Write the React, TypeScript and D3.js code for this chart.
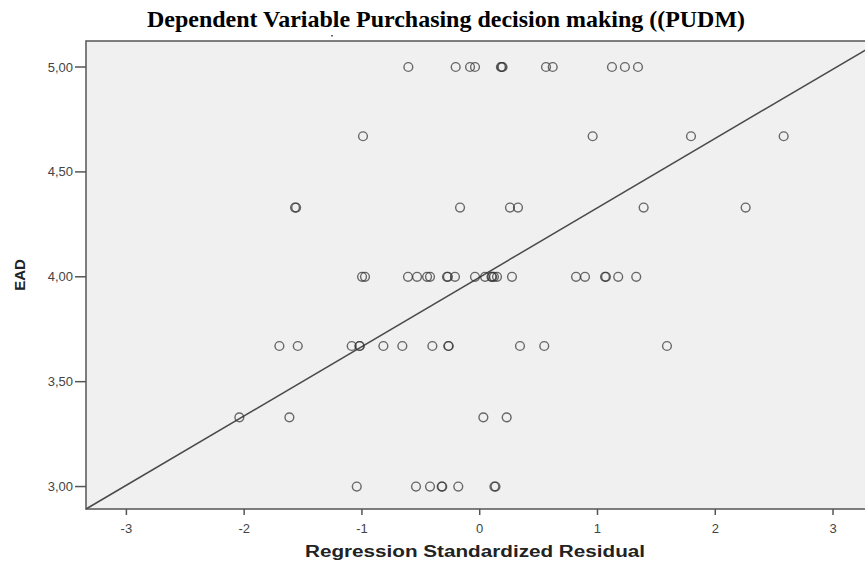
import React, { useEffect, useRef } from 'react';
import * as d3 from 'd3';

// residuals per EAD level
const rowLevels = [5.0, 4.67, 4.33, 4.0, 3.67, 3.33, 3.0];
const resid500 = [-0.606, -0.204, -0.082, -0.04, 0.18, 0.187, 0.194, 0.563, 0.62, 1.123, 1.233, 1.344];
const resid467 = [-0.991, 0.959, 1.794, 2.581];
const resid433 = [-1.568, -1.559, -0.167, 0.257, 0.325, 1.392, 2.258];
const resid400 = [-0.999, -0.974, -0.609, -0.532, -0.447, -0.422, -0.278, -0.27, -0.21, -0.04, 0.045, 0.1, 0.106,
  0.121, 0.147, 0.274, 0.818, 0.894, 1.064, 1.072, 1.176, 1.329];
const resid367 = [-1.701, -1.545, -1.087, -1.022, -1.018, -0.818, -0.657, -0.402, -0.267, -0.263, 0.342, 0.548, 1.59];
const resid333 = [-2.041, -1.616, 0.031, 0.229];
const resid300 = [-1.044, -0.541, -0.422, -0.323, -0.318, -0.182, 0.125, 0.134];

const xTicks = [-3, -2, -1, 0, 1, 2, 3];
const yTicks = [3.0, 3.5, 4.0, 4.5, 5.0];
const yTickLabels = ['3,00', '3,50', '4,00', '4,50', '5,00'];
const xDomain = [-3.343, 3.28];
const yDomain = [2.893, 5.124];
const fitLine = [[-3.343, 2.893], [3.275, 5.081]];

const title = 'Dependent Variable Purchasing decision making ((PUDM)';

const App = () => {
  const svgRef = useRef(null);

  useEffect(() => {
    const svg = d3.select(svgRef.current);
    svg.selectAll('*').remove();

    const left = 86, top = 41, right = 866, bottom = 509;
    const x = d3.scaleLinear().domain(xDomain).range([left, right]);
    const y = d3.scaleLinear().domain(yDomain).range([bottom, top]);

    const rows = [resid500, resid467, resid433, resid400, resid367, resid333, resid300];
    const points = rows.flatMap((r, i) => r.map((v) => ({ x: v, y: rowLevels[i] })));

    svg.append('text')
      .attr('x', 446).attr('y', 27)
      .attr('text-anchor', 'middle')
      .attr('font-family', 'Liberation Serif')
      .attr('font-weight', 'bold')
      .attr('font-size', 22.5)
      .attr('textLength', 598)
      .attr('lengthAdjust', 'spacingAndGlyphs')
      .attr('fill', '#000')
      .text(title);

    // stray speck under the title
    svg.append('rect')
      .attr('x', 331).attr('y', 35).attr('width', 2).attr('height', 1.5)
      .attr('fill', '#666');

    svg.append('rect')
      .attr('x', left).attr('y', top)
      .attr('width', right - left + 10).attr('height', bottom - top)
      .attr('fill', '#f0f0f0')
      .attr('stroke', '#555').attr('stroke-width', 1.5);

    // reference line
    svg.append('line')
      .attr('x1', x(fitLine[0][0])).attr('y1', y(fitLine[0][1]))
      .attr('x2', x(fitLine[1][0])).attr('y2', y(fitLine[1][1]))
      .attr('stroke', '#4a4a4a').attr('stroke-width', 1.5);

    svg.append('g').selectAll('circle')
      .data(points)
      .join('circle')
      .attr('cx', (d) => x(d.x))
      .attr('cy', (d) => y(d.y))
      .attr('r', 4.4)
      .attr('fill', 'none')
      .attr('stroke', '#333')
      .attr('stroke-opacity', 0.72)
      .attr('stroke-width', 1.4);

    // y axis
    const gy = svg.append('g');
    gy.selectAll('line').data(yTicks).join('line')
      .attr('x1', left - 11).attr('x2', left)
      .attr('y1', (d) => y(d)).attr('y2', (d) => y(d))
      .attr('stroke', '#555').attr('stroke-width', 1.5);
    gy.selectAll('text').data(yTicks).join('text')
      .attr('x', left - 13).attr('y', (d) => y(d) + 4.5)
      .attr('text-anchor', 'end')
      .attr('font-family', 'Liberation Sans')
      .attr('font-size', 13)
      .attr('fill', '#444')
      .text((d, i) => yTickLabels[i]);

    // x axis
    const gx = svg.append('g');
    gx.selectAll('line').data(xTicks).join('line')
      .attr('x1', (d) => x(d)).attr('x2', (d) => x(d))
      .attr('y1', bottom).attr('y2', bottom + 6)
      .attr('stroke', '#555').attr('stroke-width', 1.5);
    gx.selectAll('text').data(xTicks).join('text')
      .attr('x', (d) => x(d)).attr('y', bottom + 24)
      .attr('text-anchor', 'middle')
      .attr('font-family', 'Liberation Sans')
      .attr('font-size', 13)
      .attr('fill', '#444')
      .text((d) => String(d));

    svg.append('text')
      .attr('x', 475).attr('y', 557)
      .attr('text-anchor', 'middle')
      .attr('font-family', 'Liberation Sans')
      .attr('font-weight', 'bold')
      .attr('font-size', 16)
      .attr('textLength', 340)
      .attr('lengthAdjust', 'spacingAndGlyphs')
      .attr('fill', '#222')
      .text('Regression Standardized Residual');

    svg.append('text')
      .attr('transform', 'translate(25,275) rotate(-90)')
      .attr('text-anchor', 'middle')
      .attr('font-family', 'Liberation Sans')
      .attr('font-weight', 'bold')
      .attr('font-size', 15)
      .attr('fill', '#222')
      .text('EAD');
  }, []);

  return (
    <svg ref={svgRef} width={865} height={566}
      style={{ position: 'absolute', left: 0, top: 0, background: '#fff' }} />
  );
};

export default App;
